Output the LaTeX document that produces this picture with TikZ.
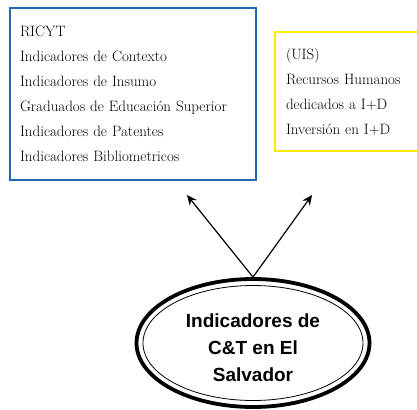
\documentclass[tikz,border=0pt]{standalone}
\usepackage{fontspec}
\usepackage{tikz}
\usetikzlibrary{arrows.meta,shapes.geometric,positioning}
\newfontfamily\arialfont{Liberation Sans}
\definecolor{boxblue}{HTML}{2468B2}
\definecolor{boxyellow}{HTML}{FFEA00}

\begin{document}
\begin{tikzpicture}[x=1pt,y=-1pt,>={Stealth[length=10pt,width=9pt]},semithick]
		\tikzstyle{listbox}=[draw,line width=1.6pt,inner xsep=10pt,align=left,
			font=\fontsize{15}{25}\selectfont]
		\tikzstyle{outer ellipse}=[draw,ellipse,line width=3.8pt,minimum width=233pt,minimum height=128pt]
		\tikzstyle{inner ellipse}=[draw,ellipse,line width=0.8pt,minimum width=220pt,minimum height=115pt]

		\useasboundingbox (0,0) rectangle (417,409);

		\node[listbox,draw=boxblue,minimum width=246pt,minimum height=172pt,text width=226pt] (ricyt) at (133,94)
			{RICYT\\ Indicadores de Contexto\\ Indicadores de Insumo\\ Graduados de Educación Superior\\ Indicadores de Patentes\\ Indicadores Bibliometricos};
		\node[listbox,draw=boxyellow,minimum width=146pt,minimum height=119pt,text width=124pt] (uis) at (348,91.5)
			{(UIS)\\ Recursos Humanos\\ dedicados a I+D\\ Inversión en I+D};

		\node[outer ellipse] (cyt) at (253,343) {};
		\node[inner ellipse] (cytin) at (cyt) {};
		\node[align=center,font=\arialfont\bfseries\fontsize{19}{27}\selectfont] (cytlabel) at ([yshift=-5pt]cyt.center)
			{Indicadores de\\ C\&T en El\\ Salvador};

		\coordinate (tipa) at (187,195);
		\coordinate (tipb) at (312,195);
		\path[->,line width=1.2pt]
		(cyt.north) edge (tipa)
			edge (tipb);
	\end{tikzpicture}
\end{document}
